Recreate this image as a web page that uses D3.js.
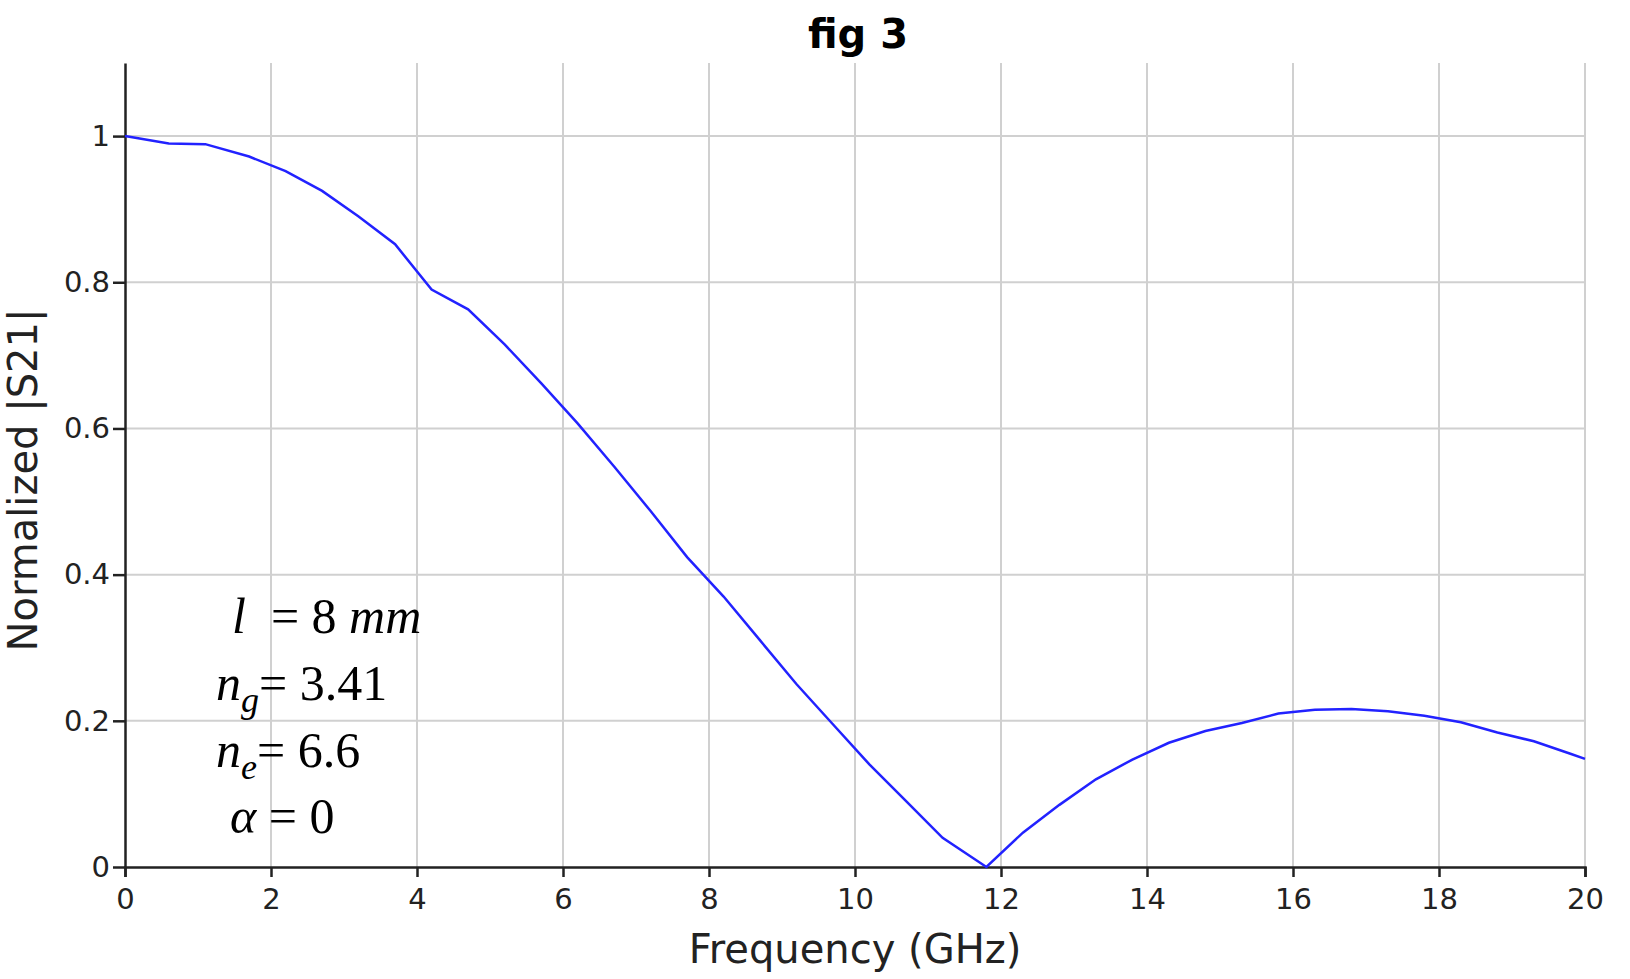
<!DOCTYPE html>
<html><head><meta charset="utf-8">
<script src="https://cdn.jsdelivr.net/npm/d3@7"></script>
<style>body{margin:0;background:#fff}</style></head>
<body><svg id="c" width="1630" height="979"></svg>
<script>
const freq=[0,0.6,1.1,1.7,2.2,2.7,3.2,3.7,4.2,4.7,5.2,5.7,6.2,6.7,7.2,7.7,8.2,8.7,9.2,9.7,10.2,10.7,11.2,11.8,12.3,12.8,13.3,13.8,14.3,14.8,15.3,15.8,16.3,16.8,17.3,17.8,18.3,18.8,19.3,19.8,20];
const s21=[1.0,0.99,0.989,0.972,0.952,0.925,0.89,0.852,0.79,0.763,0.715,0.662,0.607,0.548,0.487,0.424,0.37,0.31,0.25,0.195,0.14,0.09,0.04,0.0,0.047,0.085,0.12,0.147,0.17,0.186,0.197,0.21,0.215,0.216,0.213,0.207,0.198,0.184,0.172,0.155,0.148];
const xTicks=[0,2,4,6,8,10,12,14,16,18,20];
const yTicks=[0,0.2,0.4,0.6,0.8,1];
const svg=d3.select("#c");
const L=125,R=1585,T=63,B=867;
const x=d3.scaleLinear().domain([0,20]).range([L,R]);
const y=d3.scaleLinear().domain([0,1.1]).range([B,T]);
const g=svg.append("g");
g.selectAll(".gx").data(xTicks.slice(1)).join("line").attr("x1",d=>x(d)).attr("x2",d=>x(d)).attr("y1",T).attr("y2",B).attr("stroke","#d0d0d0").attr("stroke-width",2);
g.selectAll(".gy").data(yTicks.slice(1)).join("line").attr("y1",d=>y(d)).attr("y2",d=>y(d)).attr("x1",L).attr("x2",R).attr("stroke","#d0d0d0").attr("stroke-width",2);
const font="DejaVu Sans";
const xa=svg.append("g").attr("transform",`translate(0,${B})`).call(d3.axisBottom(x).tickValues(xTicks).tickFormat(d3.format("d")).tickSize(10).tickSizeOuter(10));
const ya=svg.append("g").attr("transform",`translate(${L},0)`).call(d3.axisLeft(y).tickValues(yTicks).tickFormat(d=>d===0?"0":d===1?"1":d3.format(".1f")(d)).tickSize(12).tickSizeOuter(0));
[xa,ya].forEach(a=>{a.selectAll("path,line").attr("stroke","#222").attr("stroke-width",2.5);a.selectAll("text").attr("font-family",font).attr("font-size",29).attr("fill","#222");});
xa.selectAll("text").attr("dy","1.0em");
svg.append("path").datum(freq.map((f,i)=>[f,s21[i]])).attr("fill","none").attr("stroke","#2222ff").attr("stroke-width",2.5)
 .attr("d",d3.line().x(d=>x(d[0])).y(d=>y(d[1])));
svg.append("text").attr("x",858).attr("y",48).attr("text-anchor","middle").attr("font-family",font).attr("font-weight","bold").attr("font-size",40).text("fig 3");
svg.append("text").attr("x",855).attr("y",963).attr("text-anchor","middle").attr("font-family",font).attr("font-size",40).attr("fill","#222").text("Frequency (GHz)");
svg.append("text").attr("transform","translate(37,480) rotate(-90)").attr("text-anchor","middle").attr("font-family",font).attr("font-size",40).attr("fill","#222").text("Normalized |S21|");
const sf="Liberation Serif, Times New Roman, serif";
const ann=svg.append("g").attr("font-family",sf).attr("font-size",50);
let t=ann.append("text").attr("x",232).attr("y",633).attr("xml:space","preserve");
t.append("tspan").attr("font-style","italic").text("l");t.append("tspan").text("  = 8 ");t.append("tspan").attr("font-style","italic").text("mm");
t=ann.append("text").attr("x",216).attr("y",700);
t.append("tspan").attr("font-style","italic").text("n");t.append("tspan").attr("font-style","italic").attr("font-size",36).attr("dy",12).text("g");t.append("tspan").attr("dy",-12).text("= 3.41");
t=ann.append("text").attr("x",216).attr("y",767);
t.append("tspan").attr("font-style","italic").text("n");t.append("tspan").attr("font-style","italic").attr("font-size",36).attr("dy",12).text("e");t.append("tspan").attr("dy",-12).text("= 6.6");
t=ann.append("text").attr("x",230).attr("y",833);
t.append("tspan").attr("font-style","italic").text("α");t.append("tspan").text(" = 0");
</script></body></html>
